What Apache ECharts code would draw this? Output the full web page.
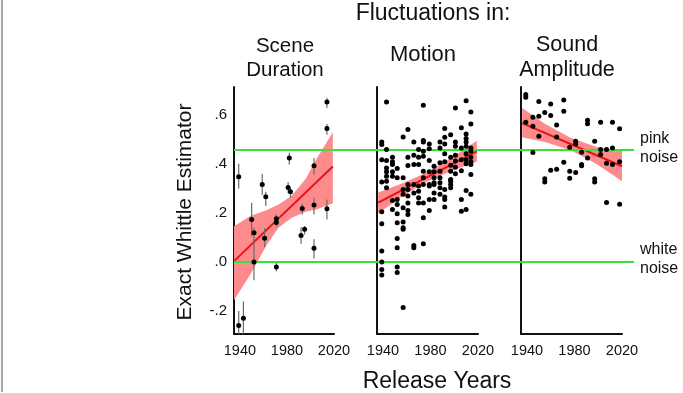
<!DOCTYPE html>
<html>
<head>
<meta charset="utf-8">
<script src="https://cdn.jsdelivr.net/npm/echarts@6/dist/echarts.min.js"></script>
<style>html,body{margin:0;padding:0;background:#fff}#c{width:683px;height:393px}</style>
</head>
<body>
<div id="c"></div>
<script>
// ---- data ----
const xTicks = [1940, 1980, 2020];
const yTicks = [-0.2, 0, 0.2, 0.4, 0.6];
const noiseLevels = [0.46, 0.0];
const noiseLabels = ['pink\nnoise', 'white\nnoise'];
const panelTitles = ['Scene\nDuration', 'Motion', 'Sound\nAmplitude'];

// Scene Duration (with error bars)
const sceneYears  = [1939, 2014, 2014, 1982, 2003, 1959, 1962, 1981, 1983, 1993, 2003, 2014, 1995, 1992, 2003, 1971, 1971, 1950, 1952, 1961, 1952, 1971, 1939, 1943];
const sceneValues = [0.348, 0.654, 0.545, 0.425, 0.393, 0.316, 0.266, 0.304, 0.287, 0.218, 0.233, 0.217, 0.133, 0.108, 0.056, 0.176, 0.161, 0.173, 0.119, 0.097, -0.001, -0.021, -0.260, -0.231];
const sceneLow    = [0.300, 0.629, 0.520, 0.398, 0.357, 0.273, 0.228, 0.282, 0.262, 0.194, 0.194, 0.173, 0.112, 0.074, 0.014, 0.153, 0.145, 0.105, 0.085, 0.060, -0.075, -0.038, -0.296, -0.296];
const sceneHigh   = [0.401, 0.670, 0.564, 0.446, 0.425, 0.360, 0.287, 0.327, 0.303, 0.238, 0.262, 0.255, 0.146, 0.142, 0.092, 0.194, 0.178, 0.242, 0.139, 0.137, 0.085, -0.003, -0.201, -0.162];
const sceneFitYears  = [1935, 2019];
const sceneFitValues = [0.003, 0.390];
const sceneBandYears = [1935, 1949, 1963, 1973, 1984, 1996, 2005, 2019];
const sceneBandUpper = [0.146, 0.187, 0.212, 0.235, 0.270, 0.340, 0.420, 0.530];
const sceneBandLower = [-0.157, -0.051, 0.071, 0.140, 0.180, 0.205, 0.214, 0.240];

// Motion
const motionYears = [
  1939,1939,1939,1939,1939,1939,1939,1939,1939,1939,
  1943,1943,1943,1943,1943,1943,1943,1943,
  1948,1948,1948,1948,1948,1948,1948,
  1952,1952,1952,1952,1952,1952,1952,1952,1952,1952,
  1957,1957,1957,1957,1957,1957,1957,1957,1957,
  1961,1961,1961,1961,1961,1961,1961,1961,1961,
  1966,1966,1966,1966,1966,1966,1966,
  1970,1970,1970,1970,1970,1970,1970,
  1974,1974,1974,1974,1974,1974,1974,1974,1974,1974,1974,
  1979,1979,1979,1979,1979,1979,1979,1979,
  1983,1983,1983,1983,1983,1983,1983,
  1988,1988,1988,1988,1988,1988,1988,1988,
  1992,1992,1992,1992,1992,1992,1992,1992,1992,
  1997,1997,1997,1997,1997,1997,1997,1997,
  2001,2001,2001,2001,2001,2001,2001,
  2006,2006,2006,2006,2006,2006,
  2010,2010,2010,2010,2010,2010,2010,2010,2010,2010,
  2014,2014,2014,2014,2014,2014,2014,2014,2014
];
const motionValues = [
  0.490,0.480,0.418,0.327,0.205,0.156,0.044,-0.001,-0.031,-0.054,
  0.654,0.459,0.414,0.384,0.368,0.350,0.330,0.303,
  0.428,0.409,0.398,0.368,0.350,0.251,0.214,
  0.382,0.344,0.255,0.235,0.197,0.160,0.096,0.058,-0.021,-0.044,
  0.511,0.344,0.296,0.276,0.221,0.163,0.139,0.133,-0.187,
  0.541,0.428,0.394,0.316,0.296,0.269,0.241,0.210,0.194,
  0.490,0.436,0.398,0.316,0.282,0.067,0.058,
  0.459,0.428,0.398,0.310,0.289,0.262,0.241,
  0.640,0.496,0.490,0.452,0.432,0.371,0.344,0.316,0.241,0.180,0.074,
  0.482,0.463,0.414,0.368,0.316,0.310,0.255,0.210,
  0.391,0.368,0.344,0.323,0.316,0.282,0.255,
  0.490,0.466,0.405,0.371,0.344,0.323,0.303,0.276,
  0.545,0.510,0.482,0.442,0.409,0.296,0.265,0.255,0.224,
  0.520,0.428,0.395,0.371,0.337,0.330,0.316,0.303,
  0.629,0.490,0.473,0.436,0.412,0.387,0.360,
  0.548,0.466,0.418,0.373,0.255,0.207,
  0.659,0.523,0.504,0.490,0.473,0.442,0.418,0.401,0.292,0.214,
  0.613,0.564,0.466,0.452,0.428,0.409,0.398,0.357,0.276
];
const motionFitYears  = [1936, 2019];
const motionFitValues = [0.242, 0.452];
const motionBandYears = [1936, 1955, 1977, 2000, 2019];
const motionBandUpper = [0.284, 0.318, 0.365, 0.433, 0.495];
const motionBandLower = [0.198, 0.264, 0.329, 0.377, 0.409];

// Sound Amplitude
const soundYears = [
  1939,1939,1939, 1945,1945,1945, 1950,1950,1950, 1955,1955,1955,
  1960,1960,1960, 1965,1965,1965, 1971,1971,1971, 1976,1976,1976,
  1981,1981,1981, 1986,1986,1986, 1991,1991,1991, 1997,1997,1997,
  2002,2002,2002, 2007,2007,2007, 2012,2012,2012, 2018,2018,2018
];
const soundValues = [
  0.684,0.673,0.571, 0.591,0.554,0.447, 0.656,0.595,0.514, 0.611,0.340,0.327,
  0.645,0.598,0.375, 0.560,0.511,0.379, 0.662,0.616,0.407, 0.469,0.371,0.342,
  0.493,0.482,0.365, 0.448,0.398,0.393, 0.579,0.565,0.425, 0.493,0.340,0.327,
  0.571,0.459,0.439, 0.459,0.403,0.243, 0.571,0.466,0.398, 0.544,0.409,0.236
];
const soundFitYears  = [1936, 2020];
const soundFitValues = [0.567, 0.391];
const soundBandYears = [1936, 1955, 1977, 2000, 2020];
const soundBandUpper = [0.629, 0.565, 0.506, 0.468, 0.455];
const soundBandLower = [0.510, 0.490, 0.456, 0.396, 0.330];

// ---- chart ----
const FONT = 'Liberation Sans, Arial, sans-serif';
const YMIN = -0.295, YMAX = 0.715, XMIN = 1935, XMAX = 2020;
const grids = [
  {left: 234, top: 87, width: 100, height: 247},
  {left: 377, top: 87, width: 101, height: 247},
  {left: 521, top: 87, width: 101, height: 247},
  {left: 234, top: 87, width: 400, height: 247}
];
function fmtY(v){
  if (Math.abs(v) < 1e-9) return '.0';
  return (v < 0 ? '-' : '') + Math.abs(v).toFixed(1).replace(/^0/, '');
}
const axisLineStyle = {show: true, onZero: false, lineStyle: {color: '#111', width: 2}};
const xAxes = [0,1,2].map(i => ({
  type: 'value', gridIndex: i, min: XMIN, max: XMAX,
  axisLine: axisLineStyle, axisTick: {show: false}, splitLine: {show: false},
  axisLabel: {customValues: xTicks, formatter: v => String(Math.round(v)), color: '#111', fontSize: 14.5, fontFamily: FONT, margin: 9, hideOverlap: false}
}));
xAxes.push({type: 'value', gridIndex: 3, min: 0, max: 1, show: false});
const yAxes = [0,1,2].map(i => ({
  type: 'value', gridIndex: i, min: YMIN, max: YMAX,
  axisLine: axisLineStyle, axisTick: {show: false}, splitLine: {show: false},
  axisLabel: i === 0 ? {customValues: yTicks, formatter: fmtY, color: '#111', fontSize: 15, fontFamily: FONT, margin: 7} : {show: false}
}));
yAxes.push({type: 'value', gridIndex: 3, min: YMIN, max: YMAX, show: false});

function bandSeries(idx, years, up, lo){
  return {
    type: 'custom', xAxisIndex: idx, yAxisIndex: idx, z: 1, clip: true, silent: true,
    data: years.map((y, i) => [y, up[i], lo[i]]),
    encode: {x: 0, y: [1, 2]},
    renderItem: function(params, api){
      if (params.dataIndex !== 0) return {type: 'group', children: []};
      const pts = [];
      for (let i = 0; i < years.length; i++) pts.push(api.coord([years[i], up[i]]));
      for (let i = years.length - 1; i >= 0; i--) pts.push(api.coord([years[i], lo[i]]));
      return {type: 'polygon', shape: {points: pts, smooth: 0}, style: {fill: '#fd8b8b'}};
    }
  };
}
function fitSeries(idx, years, vals){
  return {
    type: 'line', xAxisIndex: idx, yAxisIndex: idx, z: 3, symbol: 'none', silent: true,
    data: years.map((y, i) => [y, vals[i]]),
    lineStyle: {color: '#e8101a', width: 2}
  };
}
function scatterSeries(idx, years, vals, size){
  return {
    type: 'scatter', xAxisIndex: idx, yAxisIndex: idx, z: 5, symbolSize: size, silent: true,
    data: years.map((y, i) => [y, vals[i]]),
    itemStyle: {color: '#000', opacity: 1}
  };
}

const series = [
  bandSeries(0, sceneBandYears, sceneBandUpper, sceneBandLower),
  bandSeries(1, motionBandYears, motionBandUpper, motionBandLower),
  bandSeries(2, soundBandYears, soundBandUpper, soundBandLower),
  {
    type: 'scatter', xAxisIndex: 3, yAxisIndex: 3, z: 2, data: [], silent: true,
    markLine: {
      silent: true, symbol: 'none', label: {show: false},
      lineStyle: {color: '#3be03b', width: 2, type: 'solid'},
      data: noiseLevels.map(v => ({yAxis: v}))
    }
  },
  fitSeries(0, sceneFitYears, sceneFitValues),
  fitSeries(1, motionFitYears, motionFitValues),
  fitSeries(2, soundFitYears, soundFitValues),
  {
    type: 'custom', xAxisIndex: 0, yAxisIndex: 0, z: 4, clip: true, silent: true,
    data: sceneYears.map((y, i) => [y, sceneValues[i], sceneLow[i], sceneHigh[i]]),
    encode: {x: 0, y: [1, 2, 3]},
    renderItem: function(params, api){
      const x = api.value(0);
      const p1 = api.coord([x, api.value(2)]);
      const p2 = api.coord([x, api.value(3)]);
      return {type: 'line', shape: {x1: p1[0], y1: p1[1], x2: p2[0], y2: p2[1]}, style: {stroke: '#6a6a6a', lineWidth: 1.2}};
    }
  },
  scatterSeries(0, sceneYears, sceneValues, 5),
  scatterSeries(1, motionYears, motionValues, 5),
  scatterSeries(2, soundYears, soundValues, 5)
];

const txt = (x, y, text, size, extra) => Object.assign({
  type: 'text', x: x, y: y,
  style: {text: text, fill: '#111', font: size + 'px ' + FONT, align: 'center', verticalAlign: 'middle', lineHeight: Math.round(size * 1.15)}
}, extra || {});

const graphic = [
  {type: 'line', shape: {x1: 2, y1: 0, x2: 2, y2: 392}, style: {stroke: '#888', lineWidth: 1.5}},
  txt(433, 14, 'Fluctuations in:', 23),
  txt(285, 58, panelTitles[0], 20.5),
  txt(423, 55, panelTitles[1], 22),
  txt(567, 58, panelTitles[2], 21.5),
  txt(437, 382, 'Release Years', 23),
  txt(185, 212, 'Exact Whittle Estimator', 21, {rotation: Math.PI / 2}),
  {type: 'text', x: 640, y: 148, style: {text: noiseLabels[0], fill: '#111', font: '16px ' + FONT, align: 'left', verticalAlign: 'middle', lineHeight: 19}},
  {type: 'text', x: 640, y: 259, style: {text: noiseLabels[1], fill: '#111', font: '16px ' + FONT, align: 'left', verticalAlign: 'middle', lineHeight: 19}}
];

const chart = echarts.init(document.getElementById('c'), null, {renderer: 'canvas'});
chart.setOption({
  animation: false,
  backgroundColor: '#fff',
  grid: grids,
  xAxis: xAxes,
  yAxis: yAxes,
  series: series,
  graphic: graphic
});
</script>
</body>
</html>
